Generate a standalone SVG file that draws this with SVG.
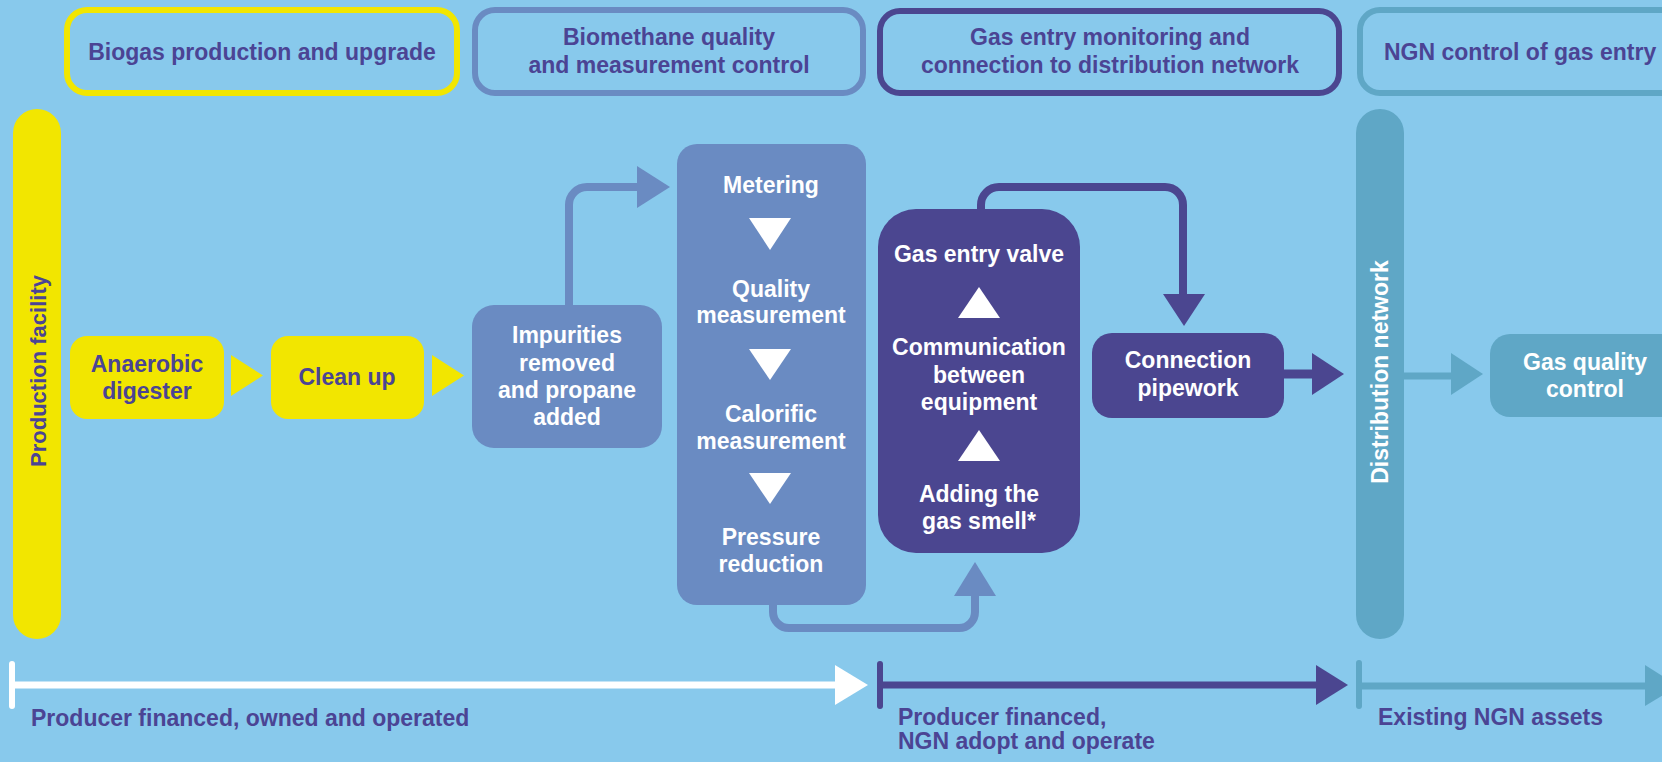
<svg xmlns="http://www.w3.org/2000/svg" width="1662" height="762" viewBox="0 0 1662 762">
<style>
text{font-family:"Liberation Sans",Arial,sans-serif;font-weight:bold;font-size:23px;text-anchor:middle}
.dk{fill:#4B4494}
.wt{fill:#FFFFFF}
.hdr{fill:none;stroke-width:6}
.st{text-anchor:start}
</style>
<rect x="0" y="0" width="1662" height="762" fill="#88C9EC"/>
<g id="header-biogas">
<rect class="hdr" x="67" y="10" width="390" height="83" rx="20" stroke="#F2E600"/>
<text class="dk" x="262" y="60">Biogas production and upgrade</text>
</g>
<g id="header-biomethane">
<rect class="hdr" x="475" y="10" width="388" height="83" rx="20" stroke="#6A8BC2"/>
<text class="dk" x="669" y="45">Biomethane quality</text>
<text class="dk" x="669" y="73">and measurement control</text>
</g>
<g id="header-gas-entry">
<rect class="hdr" x="880" y="11" width="459" height="82" rx="20" stroke="#4B4690" stroke-width="7.5"/>
<text class="dk" x="1110" y="45">Gas entry monitoring and</text>
<text class="dk" x="1110" y="73">connection to distribution network</text>
</g>
<g id="header-ngn">
<rect class="hdr" x="1360" y="10" width="340" height="83" rx="20" stroke="#5FA7C6"/>
<text class="dk st" x="1384" y="60">NGN control of gas entry</text>
</g>
<g id="production-facility">
<rect x="13" y="109" width="48" height="530" rx="24" fill="#F2E600"/>
<text class="dk" style="font-size:22px" transform="translate(46,371) rotate(-90)">Production facility</text>
</g>
<g id="distribution-network">
<rect x="1356" y="109" width="48" height="530" rx="24" fill="#5FA7C6"/>
<text class="wt" transform="translate(1388,372) rotate(-90)">Distribution network</text>
</g>
<g id="anaerobic-digester">
<rect x="70" y="336" width="154" height="83" rx="17" fill="#F2E600"/>
<text class="dk" x="147" y="372">Anaerobic</text>
<text class="dk" x="147" y="399">digester</text>
</g>
<g id="clean-up">
<rect x="271" y="336" width="153" height="83" rx="17" fill="#F2E600"/>
<text class="dk" x="347" y="385">Clean up</text>
</g>
<g id="impurities">
<rect x="472" y="305" width="190" height="143" rx="22" fill="#6A8BC2"/>
<text class="wt" x="567" y="343">Impurities</text>
<text class="wt" x="567" y="371">removed</text>
<text class="wt" x="567" y="398">and propane</text>
<text class="wt" x="567" y="425">added</text>
</g>
<g id="measurement-column">
<rect x="677" y="144" width="189" height="461" rx="20" fill="#6A8BC2"/>
<text class="wt" x="771" y="193">Metering</text>
<polygon points="749,218 791,218 770,250" fill="#FFFFFF"/>
<text class="wt" x="771" y="297">Quality</text>
<text class="wt" x="771" y="323">measurement</text>
<polygon points="749,349 791,349 770,380" fill="#FFFFFF"/>
<text class="wt" x="771" y="422">Calorific</text>
<text class="wt" x="771" y="449">measurement</text>
<polygon points="749,473 791,473 770,504" fill="#FFFFFF"/>
<text class="wt" x="771" y="545">Pressure</text>
<text class="wt" x="771" y="572">reduction</text>
</g>
<g id="gas-entry">
<rect x="878" y="209" width="202" height="344" rx="38" fill="#4B4690"/>
<text class="wt" x="979" y="262">Gas entry valve</text>
<polygon points="958,318 1000,318 979,287" fill="#FFFFFF"/>
<text class="wt" x="979" y="355">Communication</text>
<text class="wt" x="979" y="383">between</text>
<text class="wt" x="979" y="410">equipment</text>
<polygon points="958,461 1000,461 979,430" fill="#FFFFFF"/>
<text class="wt" x="979" y="502">Adding the</text>
<text class="wt" x="979" y="529">gas smell*</text>
</g>
<g id="connection-pipework">
<rect x="1092" y="333" width="192" height="85" rx="20" fill="#4B4690"/>
<text class="wt" x="1188" y="368">Connection</text>
<text class="wt" x="1188" y="396">pipework</text>
</g>
<g id="gas-quality-control">
<rect x="1490" y="334" width="200" height="83" rx="20" fill="#5FA7C6"/>
<text class="wt" x="1585" y="370">Gas quality</text>
<text class="wt" x="1585" y="397">control</text>
</g>
<g id="connectors" fill="none">
<polygon points="231,355 263,375.5 231,396" fill="#F2E600"/>
<polygon points="432,355 464,375.5 432,396" fill="#F2E600"/>
<path d="M569,306 V205 A18,18 0 0 1 587,187 H640" stroke="#6A8BC2" stroke-width="8"/>
<polygon points="637,166 670,187 637,208" fill="#6A8BC2"/>
<path d="M773,604 V612 A16,16 0 0 0 789,628 H959 A16,16 0 0 0 975,612 V594" stroke="#6A8BC2" stroke-width="8"/>
<polygon points="954,596 975,562 996,596" fill="#6A8BC2"/>
<path d="M981,211 V205 A18,18 0 0 1 999,187 H1165 A18,18 0 0 1 1183,205 V296" stroke="#4B4690" stroke-width="8"/>
<polygon points="1163,294 1205,294 1184,326" fill="#4B4690"/>
<path d="M1284,374 H1314" stroke="#4B4690" stroke-width="9"/>
<polygon points="1312,353 1344,374 1312,395" fill="#4B4690"/>
<path d="M1404,376 H1453" stroke="#5FA7C6" stroke-width="7"/>
<polygon points="1451,353 1483,374 1451,395" fill="#5FA7C6"/>
</g>
<g id="timeline-producer">
<path d="M12,664 V706" stroke="#FFFFFF" stroke-width="6" stroke-linecap="round"/>
<path d="M12,685 H837" stroke="#FFFFFF" stroke-width="7"/>
<polygon points="835,665 868,685 835,705" fill="#FFFFFF"/>
<text class="dk st" x="31" y="726">Producer financed, owned and operated</text>
</g>
<g id="timeline-adopt">
<path d="M880,664 V706" stroke="#4B4690" stroke-width="6" stroke-linecap="round"/>
<path d="M880,685 H1318" stroke="#4B4690" stroke-width="7"/>
<polygon points="1316,665 1348,685 1316,705" fill="#4B4690"/>
<text class="dk st" x="898" y="725">Producer financed,</text>
<text class="dk st" x="898" y="749">NGN adopt and operate</text>
</g>
<g id="timeline-existing">
<path d="M1359,663 V706" stroke="#5FA7C6" stroke-width="6" stroke-linecap="round"/>
<path d="M1359,686 H1648" stroke="#5FA7C6" stroke-width="7"/>
<polygon points="1645,665 1678,686 1645,706" fill="#5FA7C6"/>
<text class="dk st" x="1378" y="725">Existing NGN assets</text>
</g>
</svg>
